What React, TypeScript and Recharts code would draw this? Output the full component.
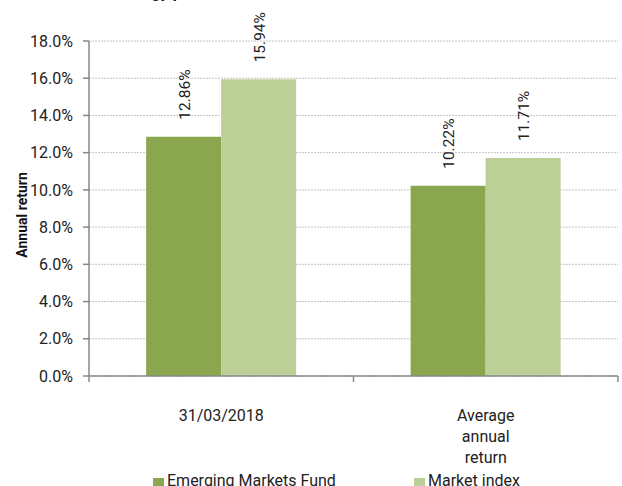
import { BarChart, Bar, XAxis, YAxis, CartesianGrid, Legend, LabelList } from "recharts";

const categories = ["31/03/2018", "Average annual return"];
const fundReturns = [12.86, 10.22];
const indexReturns = [15.94, 11.71];
const yTicks = [0, 2, 4, 6, 8, 10, 12, 14, 16, 18];

const FUND = "Emerging Markets Fund";
const INDEX = "Market index";
const DARK = "#8aa64e";
const LIGHT = "#bbcf96";
const FONT = "Roboto, 'Noto Sans', sans-serif";

const data = categories.map((name, i) => ({
  name,
  fund: fundReturns[i],
  index: indexReturns[i],
}));

function XTick(props: any) {
  const { x, y, payload, index, visibleTicksCount } = props;
  const half = payload.offset || 0;
  const words: string[] = payload.value === "Average annual return" ? ["Average", "annual", "return"] : [payload.value];
  return (
    <g>
      <line x1={x - half} x2={x - half} y1={y - 8} y2={y - 2} stroke="#888" strokeWidth={1.5} />
      {index === visibleTicksCount - 1 && (
        <line x1={x + half} x2={x + half} y1={y - 8} y2={y - 2} stroke="#888" strokeWidth={1.5} />
      )}
      <text x={x} y={y + 37} textAnchor="middle" fontSize={16} fill="#222" fontFamily={FONT}>
        {words.map((w, i) => (
          <tspan key={i} x={x} dy={i === 0 ? 0 : 21}>
            {w}
          </tspan>
        ))}
      </text>
    </g>
  );
}

function BarValue(props: any) {
  const { x, y, width, value } = props;
  const cx = x + width / 2 + 1;
  const ty = y - 17;
  return (
    <text
      x={cx}
      y={ty}
      transform={`rotate(-90 ${cx} ${ty})`}
      textAnchor="start"
      dominantBaseline="central"
      fontSize={15.5}
      fill="#222"
      fontFamily={FONT}
    >
      {value.toFixed(2)}%
    </text>
  );
}

function YLabel() {
  return (
    <text
      x={22}
      y={215}
      transform="rotate(-90 22 215)"
      textAnchor="middle"
      dominantBaseline="central"
      fontSize={14}
      fontWeight="bold"
      fill="#111"
      fontFamily={FONT}
    >
      Annual return
    </text>
  );
}

function LegendContent() {
  const items = [
    { label: FUND, color: DARK, left: 153 },
    { label: INDEX, color: LIGHT, left: 414 },
  ];
  return (
    <div style={{ position: "relative", height: 20, fontFamily: FONT, fontSize: 16, color: "#222", lineHeight: "18px" }}>
      {items.map((it) => (
        <div key={it.label} style={{ position: "absolute", left: it.left, top: 0, whiteSpace: "nowrap" }}>
          <span style={{ position: "absolute", left: 0, top: 6, width: 11, height: 11, background: it.color }} />
          <span style={{ position: "absolute", left: 14, top: 0 }}>{it.label}</span>
        </div>
      ))}
    </div>
  );
}

export default function App() {
  return (
    <div style={{ position: "absolute", left: 0, top: 0, width: 622, height: 486, overflow: "hidden", background: "#fff" }}>
      <div
        style={{
          position: "absolute",
          left: 108,
          top: -17,
          fontFamily: FONT,
          fontSize: 16,
          fontWeight: "bold",
          color: "#111",
          whiteSpace: "nowrap",
        }}
      >
        Strategy performance
      </div>
      <BarChart
        width={622}
        height={486}
        data={data}
        margin={{ top: 41, right: 4, bottom: 0, left: 29 }}
        barGap={0}
        barCategoryGap="21.6%"
      >
        <CartesianGrid vertical={false} stroke="#c4c4c4" strokeDasharray="2 1" />
        <XAxis
          dataKey="name"
          tickLine={false}
          axisLine={{ stroke: "#888", strokeWidth: 1.5 }}
          tick={<XTick />}
          interval={0}
          height={90}
        />
        <YAxis
          domain={[0, 18]}
          ticks={yTicks}
          width={60}
          tickFormatter={(v: number) => `${v.toFixed(1)}%`}
          tick={{ fontSize: 16, fill: "#222", fontFamily: FONT }}
          tickSize={6}
          tickMargin={10}
          axisLine={{ stroke: "#888", strokeWidth: 1.5 }}
          tickLine={{ stroke: "#888", strokeWidth: 1.5 }}
          label={<YLabel />}
        />
        <Legend verticalAlign="bottom" wrapperStyle={{ top: 472, left: 0, width: 622 }} content={<LegendContent />} />
        <Bar dataKey="fund" name={FUND} fill={DARK} isAnimationActive={false}>
          <LabelList dataKey="fund" content={<BarValue />} />
        </Bar>
        <Bar dataKey="index" name={INDEX} fill={LIGHT} isAnimationActive={false}>
          <LabelList dataKey="index" content={<BarValue />} />
        </Bar>
      </BarChart>
    </div>
  );
}
